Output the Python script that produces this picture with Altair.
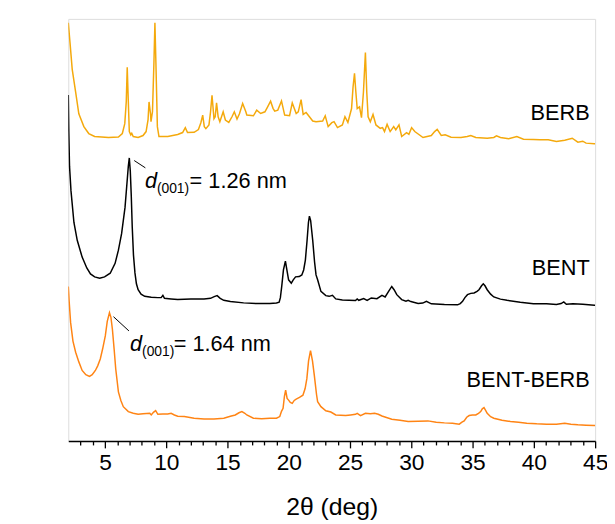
import altair as alt
import pandas as pd

# ---------------- data (2theta in deg, intensity in arbitrary units) ----------------
berb_x = [2.0, 2.14, 2.32, 2.6, 2.86, 3.27, 3.67, 4.15, 5.28, 6.09, 6.41, 6.61, 6.73, 6.81, 6.9, 6.98,
          7.1, 7.18, 7.3, 7.7, 8.1, 8.35, 8.51, 8.59, 8.71, 8.75, 8.87, 8.99, 9.07, 9.15, 9.27, 9.4,
          10.12, 10.93, 11.33, 11.55, 11.73, 12.27, 12.62, 12.82, 12.97, 13.1, 13.23, 13.48, 13.61,
          13.73, 13.89, 13.99, 14.1, 14.23, 14.37, 14.64, 14.82, 15.1, 15.36, 15.55, 15.77, 15.97,
          16.23, 16.49, 16.57, 17.11, 17.38, 17.7, 18.05, 18.27, 18.51, 18.71, 18.85, 19.1, 19.4,
          19.66, 20.06, 20.28, 20.6, 20.77, 21.0, 21.17, 21.41, 21.68, 21.95, 22.22, 22.76, 22.97,
          23.21, 23.51, 23.69, 23.97, 24.37, 24.58, 24.82, 25.12, 25.24, 25.36, 25.47, 25.58, 25.77,
          25.93, 26.09, 26.25, 26.36, 26.47, 26.65, 26.87, 27.11, 27.46, 27.65, 27.81, 28.02, 28.27,
          28.56, 28.73, 28.99, 29.21, 29.61, 29.8, 30.02, 30.28, 30.95, 31.63, 31.9, 32.11, 32.44,
          32.76, 33.24, 34.05, 34.56, 34.85, 35.26, 36.19, 36.73, 36.95, 37.27, 37.94, 38.61, 39.15,
          39.96, 40.5, 41.17, 41.84, 42.52, 43.13, 43.59, 43.99, 44.26, 44.94, 45.0]
berb_y = [423, 403, 376, 353, 331, 318, 311, 308, 307, 307.5, 311, 321, 343, 378, 343, 313,
          309.7, 311.3, 308, 307, 309, 313, 325, 343, 331, 323, 333, 383, 423, 383, 318, 308,
          308, 310, 312, 317, 312, 312.3, 315, 322, 329.7, 318, 316, 319.7, 333,
          349.7, 326, 328, 342, 328, 323, 333, 324.7, 322.3, 328, 333, 325.7, 331,
          341.3, 333, 329.7, 329, 334.7, 331.3, 333, 338, 343.7, 336.5, 333.7, 334.7, 344,
          329.7, 329, 342, 331.3, 333, 345.3, 330.3, 332.3, 328, 323.7, 323, 323.7, 329,
          318, 322, 323, 317, 319.7, 328, 322.3, 336.3, 358, 372, 353, 336.3, 338,
          327, 353, 393, 353, 328, 323, 330.3, 319.7, 316.3, 317, 313, 320.3, 313,
          318, 314.7, 319.7, 308, 312, 310.3, 317, 313, 307, 309, 313, 315.3, 309,
          309.7, 307.3, 307, 308, 309, 307, 306.3, 307, 308.7, 307, 305.7, 308, 305.3,
          305, 304.7, 304.7, 303, 304.3, 306.3, 302.3, 303.3, 301.3, 300.7, 300.7]

bent_x = [2.0, 2.04, 2.1, 2.22, 2.46, 2.73, 3.13, 3.51, 3.81, 4.15, 4.56, 4.96, 5.42, 5.82, 6.09,
          6.35, 6.63, 6.77, 6.9, 6.98, 7.06, 7.14, 7.22, 7.32, 7.44, 7.56, 7.7, 7.94, 8.24, 8.77,
          9.31, 9.58, 9.72, 9.85, 10.39, 10.93, 12.0, 13.08, 13.61, 13.91, 14.15, 14.4, 14.69,
          15.23, 16.31, 17.38, 18.45, 18.99, 19.21, 19.31, 19.42, 19.56, 19.72, 19.84, 19.98, 20.2,
          20.36, 20.55, 20.85, 21.06, 21.21, 21.35, 21.49, 21.6, 21.68, 21.78, 21.95, 22.1, 22.22,
          22.35, 22.62, 23.02, 23.29, 23.56, 23.83, 24.37, 24.9, 25.44, 25.58, 25.71, 26.11, 26.39,
          26.73, 27.19, 27.6, 27.86, 28.13, 28.4, 28.59, 28.81, 29.21, 29.56, 29.74, 29.96, 30.55,
          30.93, 31.23, 31.63, 32.7, 33.77, 33.99, 34.18, 34.37, 34.58, 34.85, 35.12, 35.36, 35.52,
          35.73, 35.87, 36.01, 36.19, 36.47, 36.73, 37.27, 37.81, 38.89, 39.96, 41.03, 41.84, 42.22,
          42.44, 42.65, 43.19, 43.99, 44.94, 45.0]
bent_y = [350, 313, 278, 253, 221, 203, 186, 175, 169, 166, 164.7, 166, 169.7, 179.7, 193,
          209.7, 236.3, 258, 278, 286.3, 273, 248, 216.3, 188, 170, 159, 153, 148.5, 146.3, 145.3,
          145, 145, 147.3, 144.3, 143.7, 143, 143.7, 143.7, 144.3, 146, 147, 144.3, 142.3,
          141, 139.7, 139, 139, 139.5, 140.3, 145, 156.3, 173, 182, 173, 163, 159.7,
          163, 166, 166.3, 168, 173, 183, 203, 221, 227.5, 223, 203, 181, 168,
          163, 151.3, 147, 146.3, 147.3, 143.7, 142.7, 142.3, 142, 143.7, 142.3, 144, 142.3,
          144.7, 144, 147.3, 145.7, 151, 156.3, 153, 148, 143, 141.5, 142.3, 141, 139,
          139.5, 141.3, 138.7, 138, 137.7, 139, 141.3, 145, 148, 149.3, 149.7, 151.3, 153,
          157, 159, 157, 153, 148.5, 145.7, 143.5, 142.3, 140.3, 138.7, 138.7, 138, 139,
          140.7, 138.3, 138.7, 138.3, 137.3, 137.3]

mix_x = [2.0, 2.06, 2.19, 2.38, 2.6, 2.86, 3.13, 3.43, 3.73, 3.95, 4.21, 4.4, 4.61, 4.8, 5.02,
         5.18, 5.36, 5.48, 5.6, 5.74, 5.87, 6.09, 6.29, 6.49, 6.9, 7.3, 7.7, 8.1, 8.65, 8.77,
         8.95, 9.13, 9.31, 9.72, 10.12, 10.39, 10.66, 10.93, 11.47, 12.27, 13.08, 13.89, 14.69,
         15.23, 15.63, 15.93, 16.17, 16.41, 16.57, 17.11, 17.78, 18.45, 18.99, 19.26, 19.4, 19.53,
         19.64, 19.74, 19.86, 19.98, 20.12, 20.28, 20.44, 20.6, 20.87, 21.15, 21.33, 21.47, 21.61,
         21.77, 21.93, 22.08, 22.26, 22.35, 22.62, 23.02, 23.43, 23.83, 24.24, 24.64, 25.04, 25.44,
         25.58, 25.85, 26.25, 26.65, 27.0, 27.3, 27.6, 28.4, 29.07, 29.74, 30.55, 31.35, 32.03,
         32.7, 33.35, 33.91, 34.13, 34.31, 34.52, 34.72, 34.98, 35.26, 35.48, 35.66, 35.79, 35.93,
         36.06, 36.19, 36.47, 36.73, 37.4, 38.08, 38.75, 39.42, 40.23, 41.03, 41.84, 42.52, 43.02,
         43.59, 44.26, 44.94, 45.0]
mix_y = [156.3, 143, 119.7, 101, 89.7, 80, 71.3, 67, 65.3, 67, 71.3, 76, 83, 93, 106.3,
         121, 129.7, 125, 113, 93, 73, 49.7, 41, 34.7, 29.7, 28, 27, 27.5, 28, 26.3,
         29, 30.7, 27, 27.3, 27.3, 28, 26.3, 25, 24.7, 23, 22.3, 22.3, 23,
         25, 26.3, 28.5, 29.7, 28, 26.3, 23, 22.5, 23, 23, 24.7, 30, 33,
         45, 51.3, 43, 41.3, 39, 38, 41, 42.3, 44, 46.3, 53, 63, 81,
         91.3, 81, 66.3, 47, 39.7, 34.7, 30.5, 29.3, 26.3, 26, 25.7, 26.3, 27,
         28, 25.7, 28, 27.5, 28, 27, 25.3, 22, 21, 19.7, 20, 20.3, 19,
         18.3, 18, 17, 19, 20.3, 24, 25.7, 26.3, 26.3, 28, 29.7, 32.5, 33.7,
         31, 28, 24.5, 23, 21, 19.7, 19, 18, 17.3, 17, 17, 18, 17,
         16.3, 16, 15.7, 15.7]

series_names = ["BERB", "BENT", "BENT-BERB"]
series_colors = ["#F4A90C", "#000000", "#FF8414"]

# sample labels (2theta, intensity)
label_x = [44.56, 44.56, 44.56]
label_y = [332, 174.5, 61.5]

# d(001) annotations
ann_d_x = [8.27, 7.03]
ann_d_y = [256.3, 91.0]
ann_sub_x = [9.23, 8.02]
ann_sub_y = [251.0, 86.0]
ann_val_x = [11.9, 10.6]
ann_val_y = [256.3, 91.0]
ann_val_text = ["= 1.26 nm", "= 1.64 nm"]
lead_x1 = [7.38, 5.69]
lead_x2 = [8.29, 6.95]
lead_y1 = [283.7, 125.7]
lead_y2 = [276.3, 111.3]

# axis ticks
major_ticks = [5, 10, 15, 20, 25, 30, 35, 40, 45]
minor_ticks = [3, 4, 6, 7, 8, 9, 11, 12, 13, 14, 16, 17, 18, 19, 21, 22, 23, 24, 26, 27, 28, 29,
               31, 32, 33, 34, 36, 37, 38, 39, 41, 42, 43, 44]

# ---------------- build tables ----------------
rows = []
for name, xs_, ys_ in zip(series_names, [berb_x, bent_x, mix_x], [berb_y, bent_y, mix_y]):
    for i, (a, b) in enumerate(zip(xs_, ys_)):
        rows.append({"series": name, "tt": a, "I": b, "idx": i})
df = pd.DataFrame(rows)

lab_df = pd.DataFrame({"series": series_names, "x": label_x, "y": label_y})
ann_df = pd.DataFrame({
    "dx": ann_d_x, "dy": ann_d_y, "sx": ann_sub_x, "sy": ann_sub_y,
    "vx": ann_val_x, "vy": ann_val_y, "vt": ann_val_text,
    "x1": lead_x1, "x2": lead_x2, "y1": lead_y1, "y2": lead_y2,
})

FONT = "Liberation Sans, Arial, Helvetica, sans-serif"
xs = alt.Scale(domain=[2, 45], nice=False, zero=False)
ys = alt.Scale(domain=[0, 427], nice=False, zero=False)

x_axis = alt.Axis(
    title="2θ (deg)", values=major_ticks, orient="bottom",
    tickSize=7, labelFontSize=23, labelFont=FONT, labelColor="black", labelPadding=4,
    labelOverlap=False, labelFlush=False,
    tickColor="black", tickWidth=1.3, domainColor="black", domainWidth=1.5,
    grid=False, titleFontSize=25, titleFont=FONT, titleFontWeight="normal",
    titleColor="black", titleBaseline="alphabetic", titleY=74,
)
x_minor_axis = alt.Axis(
    title=None, values=minor_ticks, orient="bottom", labels=False, domain=False,
    tickSize=4, tickColor="black", tickWidth=1.3, grid=False,
)
y_axis = alt.Axis(
    title="Intensity (a.u.)", labels=False, ticks=False, grid=False,
    domainColor="black", domainWidth=1.5,
    titleFontSize=27, titleFont=FONT, titleFontWeight="normal", titleColor="black",
    titleBaseline="alphabetic", titleX=-35, titleY=197, titleAngle=-90, titleAlign="center",
)

lines = alt.Chart(df).mark_line(strokeWidth=1.5, clip=True).encode(
    x=alt.X("tt:Q", scale=xs, axis=x_axis),
    y=alt.Y("I:Q", scale=ys, axis=y_axis),
    color=alt.Color("series:N", scale=alt.Scale(domain=series_names, range=series_colors), legend=None),
    order="idx:Q",
)

minor = alt.Chart(lab_df).mark_point(opacity=0).encode(
    x=alt.X("x:Q", scale=xs, axis=x_minor_axis),
    y=alt.Y("y:Q", scale=ys, axis=None),
)

labels = alt.Chart(lab_df).mark_text(align="right", baseline="middle", fontSize=22, font=FONT,
                                     color="black").encode(
    x=alt.X("x:Q", scale=xs, axis=None), y=alt.Y("y:Q", scale=ys, axis=None), text="series:N")

d_txt = alt.Chart(ann_df).mark_text(align="left", baseline="alphabetic", fontSize=22, font=FONT,
                                    fontStyle="italic", color="black", text="d").encode(
    x=alt.X("dx:Q", scale=xs, axis=None), y=alt.Y("dy:Q", scale=ys, axis=None))
sub_txt = alt.Chart(ann_df).mark_text(align="left", baseline="alphabetic", fontSize=14, font=FONT,
                                      color="black", text="(001)").encode(
    x=alt.X("sx:Q", scale=xs, axis=None), y=alt.Y("sy:Q", scale=ys, axis=None))
val_txt = alt.Chart(ann_df).mark_text(align="left", baseline="alphabetic", fontSize=22, font=FONT,
                                      color="black").encode(
    x=alt.X("vx:Q", scale=xs, axis=None), y=alt.Y("vy:Q", scale=ys, axis=None), text="vt:N")
leaders = alt.Chart(ann_df).mark_rule(color="black", strokeWidth=1).encode(
    x=alt.X("x1:Q", scale=xs, axis=None), x2="x2:Q",
    y=alt.Y("y1:Q", scale=ys, axis=None), y2="y2:Q")

chart = alt.layer(lines, minor, leaders, labels, d_txt, sub_txt, val_txt).resolve_axis(
    x="independent"
).properties(
    width=533, height=427,
    autosize=alt.AutoSizeParams(type="none"),
    padding={"left": 61, "top": 8, "right": 12, "bottom": 81},
).configure_view(stroke=None).configure(background="white")

chart.save("out.html", embed_options={"renderer": "svg", "actions": False})
